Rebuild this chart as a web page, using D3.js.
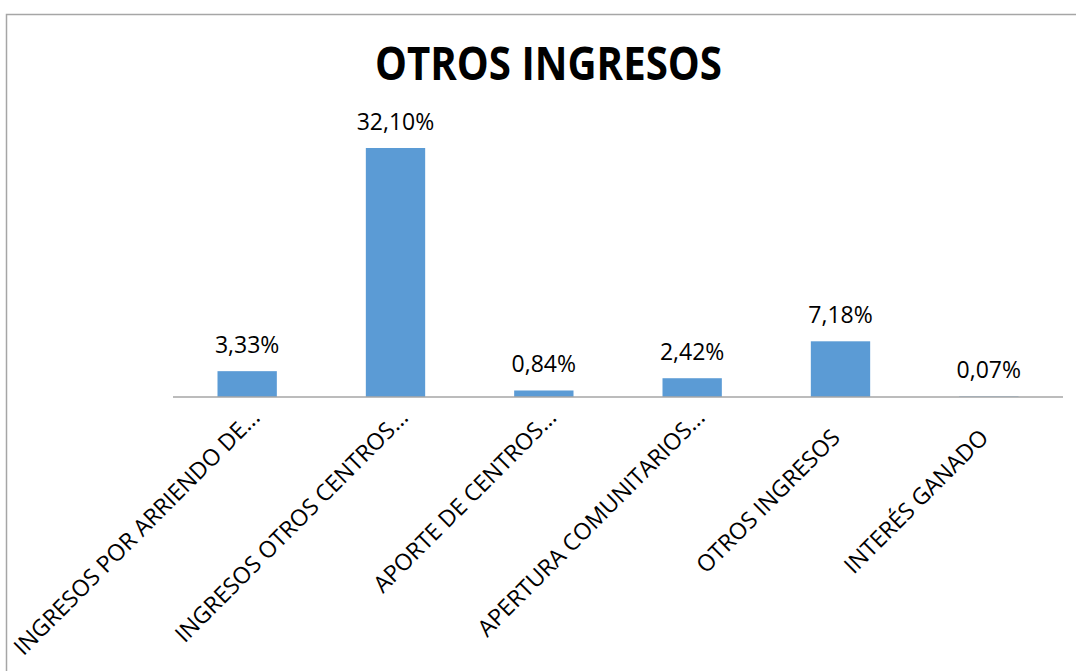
<!DOCTYPE html>
<html>
<head>
<meta charset="utf-8">
<script src="https://cdn.jsdelivr.net/npm/d3@7"></script>
<style>
  body { margin: 0; background: #fff; }
  svg { display: block; }
</style>
</head>
<body>
<svg id="chart" width="1076" height="671"></svg>
<script>
// data
var categories = [
  "INGRESOS POR ARRIENDO DE...",
  "INGRESOS OTROS CENTROS...",
  "APORTE DE CENTROS...",
  "APERTURA COMUNITARIOS...",
  "OTROS INGRESOS",
  "INTERÉS GANADO"
];
var values = [3.33, 32.10, 0.84, 2.42, 7.18, 0.07];
var valueLabels = ["3,33%", "32,10%", "0,84%", "2,42%", "7,18%", "0,07%"];
var chartTitle = "OTROS INGRESOS";

var svg = d3.select("#chart");

// chart frame (only top + left edges show)
svg.append("path")
  .attr("d", "M6.5,671 L6.5,14.5 L1076,14.5")
  .attr("fill", "none")
  .attr("stroke", "#a6a6a6")
  .attr("stroke-width", 1.5);

// title
svg.append("text")
  .attr("x", 548.5)
  .attr("y", 80)
  .attr("text-anchor", "middle")
  .attr("font-family", "'Open Sans', sans-serif")
  .attr("font-weight", "bold")
  .attr("font-size", 46)
  .attr("textLength", 347)
  .attr("lengthAdjust", "spacingAndGlyphs")
  .attr("fill", "#000")
  .text(chartTitle);

var x = d3.scaleBand()
  .domain(categories)
  .range([173, 1063])
  .paddingInner(0.6)
  .paddingOuter(0.3);

var y = d3.scaleLinear()
  .domain([0, 35])
  .range([397, 125.5]);

// bars
svg.selectAll("rect.bar")
  .data(values)
  .enter()
  .append("rect")
  .attr("class", "bar")
  .attr("x", function(d, i){ return x(categories[i]); })
  .attr("width", x.bandwidth())
  .attr("y", function(d){ return y(d); })
  .attr("height", function(d){ return y(0) - y(d); })
  .attr("fill", "#5b9bd5");

// baseline
svg.append("line")
  .attr("x1", 173).attr("x2", 1063)
  .attr("y1", y(0)).attr("y2", y(0))
  .attr("stroke", "#a6a6a6")
  .attr("stroke-width", 1.5);

// value labels
svg.selectAll("text.val")
  .data(values)
  .enter()
  .append("text")
  .attr("class", "val")
  .attr("x", function(d, i){ return x(categories[i]) + x.bandwidth()/2; })
  .attr("y", function(d){ return y(d) - 18; })
  .attr("text-anchor", "middle")
  .attr("font-family", "'Open Sans', sans-serif")
  .attr("font-size", 23)
  .attr("fill", "#000")
  .text(function(d, i){ return valueLabels[i]; });

// category labels, rotated; the cut ones ("...") sit a bit higher
svg.selectAll("text.cat")
  .data(categories)
  .enter()
  .append("text")
  .attr("class", "cat")
  .attr("transform", function(d){
    var cx = x(d) + x.bandwidth()/2;
    var cut = d.slice(-3) == "...";
    var tx = cut ? cx + 14 : cx + 1;
    var ty = cut ? 419 : 439;
    return "translate(" + tx + "," + ty + ") rotate(-45)";
  })
  .attr("text-anchor", "end")
  .attr("font-family", "'Open Sans', sans-serif")
  .attr("font-size", 23)
  .attr("fill", "#000")
  .text(function(d){ return d; });
</script>
</body>
</html>
